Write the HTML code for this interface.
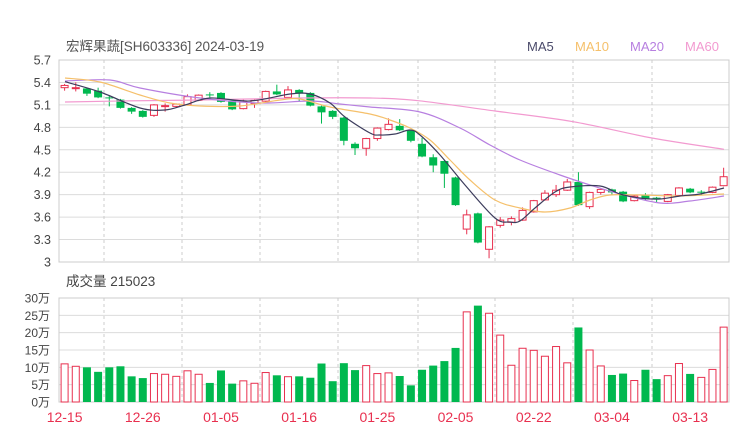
<!DOCTYPE html>
<html><head><meta charset="utf-8">
<style>
html,body{margin:0;padding:0;background:#fff;}
svg{display:block;font-family:"Liberation Sans","Noto Sans CJK SC",sans-serif;}
</style></head>
<body>
<svg id="s" width="740" height="440" xmlns="http://www.w3.org/2000/svg"></svg>
<script>
const s=document.getElementById('s');
let h='';
const X0=59,X1=729,Y0=60,Y1=262;
const py=p=>Y0+(5.7-p)/2.7*(Y1-Y0);
const bx=i=>64.6+i*11.17;
const RED='#e8304f',GRN='#00b84f';
for(let k=0;k<=9;k++){const y=Y0+k*(Y1-Y0)/9;h+=`<line x1="${X0}" y1="${y}" x2="${X1}" y2="${y}" stroke="#dcdcdc"/>`;
h+=`<text x="51" y="${y+4.5}" font-size="12.5" fill="#444" text-anchor="end">${(5.7-k*0.3).toFixed(1).replace('3.0','3')}</text>`;}
const vg=[104,182,260,338,418,495,573,652];
vg.forEach(x=>{h+=`<line x1="${x}" y1="${Y0}" x2="${x}" y2="${Y1}" stroke="#ccc" stroke-dasharray="3,3"/>`;
h+=`<line x1="${x}" y1="298" x2="${x}" y2="402" stroke="#ccc" stroke-dasharray="3,3"/>`;});
h+=`<rect x="${X0}" y="${Y0}" width="${X1-X0}" height="${Y1-Y0}" fill="none" stroke="#ccc"/>`;
h+=`<text x="66" y="51" font-size="13.5" fill="#555">宏辉果蔬[SH603336] 2024-03-19</text>`;
h+=`<text x="527" y="51" font-size="13" fill="#4a4a6a">MA5</text><text x="575" y="51" font-size="13" fill="#f5c06b">MA10</text><text x="630" y="51" font-size="13" fill="#b77fe0">MA20</text><text x="685" y="51" font-size="13" fill="#f29ad0">MA60</text>`;
const c=[[5.33,5.36,5.38,5.29],[5.32,5.33,5.40,5.28],[5.32,5.25,5.33,5.22],[5.29,5.20,5.33,5.19],[5.20,5.19,5.22,5.08],[5.17,5.06,5.18,5.05],[5.06,5.01,5.07,4.98],[5.02,4.94,5.03,4.93],[4.96,5.10,5.11,4.94],[5.08,5.09,5.12,5.01],
[5.08,5.11,5.12,5.07],[5.10,5.21,5.24,5.09],[5.16,5.23,5.24,5.15],[5.24,5.23,5.27,5.20],[5.26,5.14,5.27,5.13],[5.16,5.04,5.17,5.03],[5.05,5.14,5.17,5.04],[5.12,5.16,5.17,5.06],[5.15,5.28,5.29,5.13],[5.28,5.24,5.37,5.23],
[5.20,5.30,5.35,5.19],[5.30,5.25,5.31,5.15],[5.26,5.09,5.27,5.08],[5.08,5.00,5.09,4.85],[5.02,4.94,5.03,4.91],[4.93,4.62,4.94,4.56],[4.58,4.52,4.60,4.43],[4.52,4.65,4.66,4.42],[4.65,4.79,4.80,4.62],[4.77,4.84,4.92,4.76],
[4.82,4.76,4.91,4.75],[4.76,4.62,4.77,4.60],[4.58,4.41,4.66,4.40],[4.40,4.29,4.44,4.20],[4.35,4.18,4.36,3.99],[4.13,3.76,4.14,3.75],[3.44,3.63,3.70,3.37],[3.65,3.26,3.66,3.25],[3.17,3.47,3.48,3.05],[3.49,3.56,3.60,3.46],
[3.53,3.58,3.61,3.49],[3.56,3.69,3.73,3.55],[3.67,3.82,3.83,3.66],[3.83,3.92,3.96,3.82],[3.90,3.96,4.03,3.87],[3.96,4.07,4.11,3.95],[4.07,3.76,4.20,3.75],[3.74,3.93,3.94,3.71],[3.93,3.97,3.99,3.90],[3.97,3.93,3.98,3.89],
[3.94,3.81,3.95,3.80],[3.82,3.88,3.89,3.81],[3.89,3.84,3.92,3.83],[3.86,3.85,3.87,3.80],[3.81,3.90,3.91,3.80],[3.89,3.99,4.00,3.88],[3.98,3.93,3.99,3.92],[3.94,3.93,3.96,3.89],[3.93,4.00,4.01,3.92],[4.02,4.14,4.26,4.01]];
c.forEach((d,i)=>{const[o,cl,hi,lo]=d;const up=cl>=o;const col=up?RED:GRN;const x=bx(i);
const t=py(Math.max(o,cl)),b=py(Math.min(o,cl));const hh=Math.max(b-t,1);
h+=`<line x1="${x}" y1="${py(hi)}" x2="${x}" y2="${py(lo)}" stroke="${col}"/>`;
if(up)h+=`<rect x="${x-3.5}" y="${t}" width="7" height="${hh}" fill="#fff" stroke="${col}"/>`;
else h+=`<rect x="${x-4}" y="${t}" width="8" height="${hh}" fill="${col}"/>`;});
const line=(str,col)=>{const p=str.split(' ').map(q=>q.split(',').map(Number));
let d=`M${p[0][0]},${p[0][1]}`;
for(let i=0;i<p.length-1;i++){const p0=p[Math.max(i-1,0)],p1=p[i],p2=p[i+1],p3=p[Math.min(i+2,p.length-1)];
const c1=[p1[0]+(p2[0]-p0[0])/6,p1[1]+(p2[1]-p0[1])/6],c2=[p2[0]-(p3[0]-p1[0])/6,p2[1]-(p3[1]-p1[1])/6];
d+=` C${c1[0]},${c1[1]} ${c2[0]},${c2[1]} ${p2[0]},${p2[1]}`;}
h+=`<path fill="none" stroke="${col}" stroke-width="1.2" d="${d}"/>`;};
line("65,102 120,101 200,100 300,98 370,98 418,100.7 495,111 573,121.7 652,138 724,149.3","#f29ad0");
line("65,81 110,80 140,88 200,98 260,103 310,101 340,104 370,107 420,112 460,128 490,145 520,160 560,175 590,185 620,194 660,203 690,201 724,196","#b77fe0");
line("65,78 100,82 140,95 170,103 200,106 240,106 280,100 300,99 330,107 370,114 390,120 410,128 430,140 450,160 470,180 495,200 520,208 545,212 570,208 590,200 610,195 640,195 680,196 724,194","#f5c06b");
line("65,81.7 100,92 140,108 165,110 185,105 210,98 250,101 290,94 310,94 330,103 345,117 370,133 380,135 395,134 410,130 420,135 440,155 465,185 495,218 510,222 520,221 535,208 555,192 570,187 600,186 620,194 640,198 660,199 680,196 700,194 724,188","#3c3c5c");
const VY=402,VS=104/30;
for(let k=0;k<=6;k++){const y=VY-k*5*VS;h+=`<line x1="${X0}" y1="${y}" x2="${X1}" y2="${y}" stroke="#dcdcdc"/>`;
h+=`<text x="50" y="${y+4.5}" font-size="12" fill="#444" text-anchor="end">${k*5}万</text>`;}
h+=`<rect x="${X0}" y="${VY-104}" width="${X1-X0}" height="104" fill="none" stroke="#ccc"/>`;
h+=`<text x="66" y="286" font-size="13.5" fill="#444">成交量 215023</text>`;
const v="11r 10.3r 10g 8.7g 10g 10.3g 7.4g 6.9g 8.2r 8r 7.4r 9r 8r 5.5g 9.1g 5.3g 6.1r 5.4r 8.5r 7.7g 7.3r 7.4g 7g 11.1g 6g 11.2g 9.2g 10.5r 8.2r 8.4r 7.5g 4.8g 9.3g 10.5g 11.8g 15.6g 26r 27.8g 25.6r 19.3r 10.6r 15.5r 14.9r 13.2r 16r 11.3r 21.5g 15r 10.4r 7.8g 8.2g 6.2r 9.3g 6.6g 7.6r 11.1r 8.1g 7.1r 9.4r 21.6r".split(' ');
v.forEach((e,i)=>{const val=parseFloat(e),up=e.endsWith('r');const x=bx(i);const t=VY-val*VS;
if(up)h+=`<rect x="${x-3.5}" y="${t}" width="7" height="${VY-t}" fill="#fff" stroke="${RED}"/>`;
else h+=`<rect x="${x-4}" y="${t}" width="8" height="${VY-t}" fill="${GRN}"/>`;});
["12-15","12-26","01-05","01-16","01-25","02-05","02-22","03-04","03-13"].forEach((l,k)=>{
h+=`<text x="${bx(k*7)}" y="422" font-size="14" fill="${RED}" text-anchor="middle">${l}</text>`;});
s.innerHTML=h;
</script>
</body></html>
